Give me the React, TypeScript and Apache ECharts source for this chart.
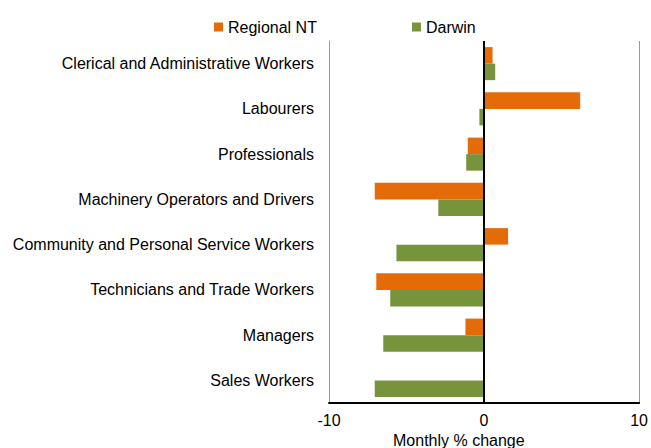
import React, { useEffect, useRef } from "react";
import * as echarts from "echarts";

const categories = [
  "Clerical and Administrative Workers",
  "Labourers",
  "Professionals",
  "Machinery Operators and Drivers",
  "Community and Personal Service Workers",
  "Technicians and Trade Workers",
  "Managers",
  "Sales Workers",
];
const regionalNT = [0.55, 6.2, -1.05, -7.05, 1.55, -6.95, -1.2, 0];
const darwin = [0.72, -0.3, -1.15, -2.95, -5.65, -6.05, -6.5, -7.05];
const xTicks = [-10, 0, 10];

const FONT = "'Liberation Sans', Arial, sans-serif";

export default function App() {
  const ref = useRef<HTMLDivElement>(null);
  useEffect(() => {
    if (!ref.current) return;
    const chart = echarts.init(ref.current, undefined, { renderer: "svg" });
    chart.setOption({
      animation: false,
      textStyle: { fontFamily: FONT },
      legend: {
        left: 209,
        top: 14,
        itemWidth: 9,
        itemHeight: 9,
        itemGap: 95,
        icon: "rect",
        textStyle: { fontSize: 16, color: "#000", fontFamily: FONT },
        data: ["Regional NT", "Darwin"],
      },
      grid: { left: 329, right: 9, top: 41, bottom: 45, containLabel: false },
      xAxis: {
        type: "value",
        min: xTicks[0],
        max: xTicks[xTicks.length - 1],
        interval: 10,
        axisLine: { show: true, onZero: false, lineStyle: { color: "#000", width: 2 } },
        axisTick: { show: false },
        axisLabel: { fontSize: 16, color: "#000", margin: 9, fontFamily: FONT },
        splitLine: { show: true, lineStyle: { color: "#999", width: 1 } },
      },
      yAxis: {
        type: "category",
        inverse: true,
        data: categories,
        axisLine: { show: true, onZero: false, lineStyle: { color: "#999", width: 1 } },
        axisTick: { show: false },
        axisLabel: { fontSize: 16, color: "#000", margin: 15, fontFamily: FONT },
      },
      series: [
        {
          name: "Regional NT",
          type: "bar",
          data: regionalNT,
          barGap: "0%",
          barCategoryGap: "27%",
          itemStyle: { color: "#E36C09" },
          markLine: {
            silent: true,
            symbol: "none",
            label: { show: false },
            lineStyle: { color: "#000", width: 2, type: "solid" },
            data: [{ xAxis: 0 }],
          },
          z: 2,
        },
        {
          name: "Darwin",
          type: "bar",
          data: darwin,
          barGap: "0%",
          barCategoryGap: "27%",
          itemStyle: { color: "#77933C" },
          z: 2,
        },
      ],
      graphic: [
        {
          type: "text",
          left: 393,
          top: 432,
          style: { text: "Monthly % change", fontSize: 16, fill: "#000", fontFamily: FONT },
        },
      ],
    });
    return () => chart.dispose();
  }, []);
  return <div ref={ref} style={{ width: 651, height: 448, position: "absolute", left: 0, top: 0 }} />;
}
